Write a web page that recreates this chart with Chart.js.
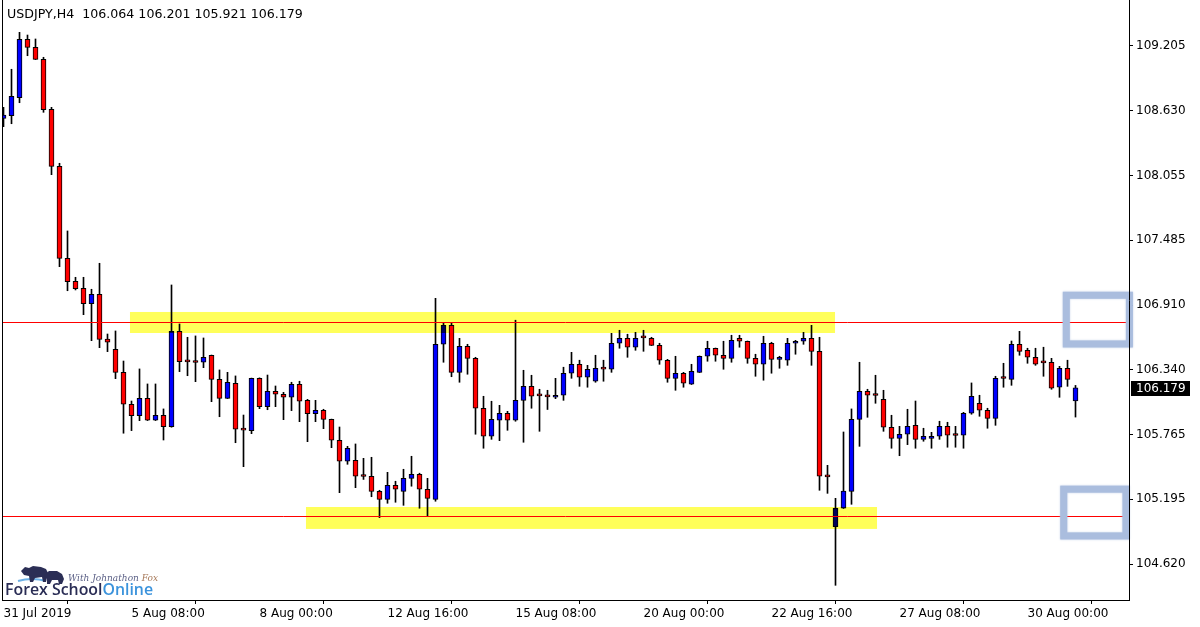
<!DOCTYPE html>
<html><head><meta charset="utf-8">
<script src="https://cdn.jsdelivr.net/npm/chart.js@4.4.1/dist/chart.umd.min.js"></script>
<style>html,body{margin:0;padding:0;background:#fff;overflow:hidden}canvas{display:block}</style>
</head><body>
<canvas id="c" width="1200" height="627"></canvas>
<script>
const symbol = "USDJPY,H4";
const opens = [
108.565,108.588,108.747,109.264,109.193,109.087,108.645,108.140,107.326,107.123,
107.061,106.924,107.008,106.612,106.521,106.317,106.034,105.933,106.087,105.893,
105.937,105.836,106.680,106.411,106.406,106.406,106.468,106.255,106.087,106.220,
105.807,105.801,106.264,106.013,106.149,106.123,106.096,106.211,106.069,105.951,
105.981,105.901,105.716,105.530,105.539,105.397,105.397,105.264,105.193,105.317,
105.264,105.379,105.415,105.282,105.193,106.565,106.733,106.317,106.547,106.441,
105.999,105.751,105.893,105.955,105.893,106.069,106.193,106.110,106.101,106.096,
106.114,106.309,106.388,106.273,106.238,106.347,106.344,106.574,106.618,106.539,
106.624,106.618,106.556,106.424,106.264,106.309,106.211,106.317,106.459,106.530,
106.468,106.441,106.618,106.592,106.441,106.388,106.574,106.432,106.424,106.574,
106.592,106.618,106.503,105.393,104.951,105.114,105.264,105.901,106.149,106.114,
106.078,105.831,105.733,105.769,105.848,105.724,105.733,105.751,105.839,105.760,
105.760,105.955,106.043,105.981,105.910,106.264,106.255,106.565,106.512,106.450,
106.402,106.406,106.185,106.353,106.064];
const highs = [
108.662,108.999,109.326,109.302,109.267,109.105,108.662,108.167,107.568,107.158,
107.158,107.052,107.282,106.656,106.683,106.417,106.063,106.347,106.214,106.214,
105.993,107.090,106.745,106.627,106.639,106.621,106.470,106.338,106.317,106.285,
105.939,106.266,106.268,106.293,106.196,106.140,106.229,106.238,106.078,106.069,
105.990,105.903,105.833,105.662,105.683,105.556,105.565,105.273,105.432,105.353,
105.459,105.574,105.424,105.379,106.972,106.751,106.756,106.618,106.565,106.450,
106.105,106.061,106.025,105.972,106.778,106.335,106.291,106.167,106.158,106.264,
106.362,106.494,106.424,106.379,106.468,106.424,106.662,106.689,106.654,106.671,
106.689,106.627,106.574,106.432,106.459,106.317,106.388,106.462,106.592,106.532,
106.592,106.645,106.645,106.594,106.477,106.636,106.583,106.459,106.618,106.600,
106.671,106.733,106.627,105.494,105.202,105.789,105.993,106.406,106.167,106.291,
106.158,105.937,105.839,105.990,106.063,105.822,105.786,105.884,105.875,105.839,
105.963,106.223,106.114,105.999,106.282,106.397,106.594,106.680,106.530,106.530,
106.539,106.441,106.370,106.424,106.201];
const lows = [
108.491,108.517,108.703,109.119,109.085,108.618,108.066,107.252,107.039,107.046,
106.827,106.597,106.535,106.500,106.261,105.778,105.801,105.889,105.890,105.890,
105.718,105.831,106.323,106.287,106.234,106.358,106.057,105.924,106.085,105.694,
105.482,105.774,105.995,105.986,106.013,105.898,105.978,105.880,105.703,105.880,
105.818,105.650,105.252,105.503,105.296,105.369,105.216,105.031,105.158,105.167,
105.140,105.309,105.114,105.048,105.176,106.406,106.278,106.229,106.300,105.769,
105.645,105.724,105.712,105.804,105.884,105.698,105.999,105.795,105.988,106.084,
106.069,106.264,106.193,106.185,106.229,106.238,106.317,106.530,106.450,106.512,
106.503,106.554,106.388,106.229,106.158,106.185,106.209,106.315,106.415,106.415,
106.344,106.406,106.539,106.397,106.282,106.247,106.309,106.353,106.379,106.477,
106.565,106.379,105.273,105.246,104.432,105.112,105.149,105.662,105.919,106.043,
105.795,105.645,105.579,105.677,105.645,105.707,105.645,105.724,105.654,105.654,
105.645,105.946,105.928,105.822,105.848,106.185,106.202,106.468,106.397,106.379,
106.282,106.167,106.096,106.193,105.921];
const closes = [
108.594,108.760,109.264,109.193,109.087,108.641,108.140,107.326,107.119,107.057,
106.924,107.008,106.609,106.583,106.317,106.034,105.933,106.087,105.893,105.937,
105.836,106.680,106.411,106.409,106.404,106.450,106.255,106.087,106.229,105.813,
105.805,106.264,106.013,106.149,106.123,106.096,106.211,106.061,105.951,105.981,
105.901,105.716,105.530,105.645,105.397,105.395,105.264,105.193,105.317,105.282,
105.379,105.415,105.282,105.202,106.565,106.733,106.317,106.547,106.441,105.999,
105.751,105.901,105.955,105.893,106.069,106.193,106.105,106.108,106.099,106.114,
106.309,106.388,106.273,106.344,106.353,106.345,106.574,106.618,106.539,106.618,
106.622,106.556,106.424,106.264,106.309,106.220,106.326,106.459,106.530,106.468,
106.441,106.600,106.592,106.441,106.388,106.574,106.432,106.437,106.574,106.592,
106.618,106.503,105.397,105.391,105.114,105.267,105.901,106.149,106.114,106.112,
105.831,105.733,105.769,105.839,105.724,105.751,105.751,105.839,105.760,105.758,
105.955,106.105,105.981,105.910,106.264,106.262,106.565,106.503,106.450,106.388,
106.400,106.176,106.353,106.255,106.179];

const tickIndex = [0,16,32,48,64,80,96,112,128];
const tickLabels = ["31 Jul 2019","5 Aug 08:00","8 Aug 00:00","12 Aug 16:00","15 Aug 08:00","20 Aug 00:00","22 Aug 16:00","27 Aug 08:00","30 Aug 00:00"];
const priceTicks = [109.205,108.630,108.055,107.485,106.910,106.340,105.765,105.195,104.620];
const levels = [106.763,105.046];
const zoneFrom = [15.81,37.81];
const zoneTo = [103.94,109.19];
const zoneTop = [106.851,105.125];
const zoneBottom = [106.665,104.931];
const boxFrom = [132.85,132.53];
const boxTo = [140.74,140.31];
const boxTop = [106.999,105.283];
const boxBottom = [106.568,104.869];

const idx = opens.map((_, i) => i);
const bodies = idx.map(i => ({x: i, y: [opens[i], closes[i]]}));
const wicks = idx.map(i => ({x: i, y: [lows[i], highs[i]]}));
const bodyColors = idx.map(i => closes[i] >= opens[i] ? '#0000FF' : '#FF0000');

const FONT = 'DejaVu Sans';

const overlay = {
  id: 'overlay',
  beforeDraw(chart) {
    const ctx = chart.ctx;
    ctx.save();
    ctx.fillStyle = '#fff';
    ctx.fillRect(0, 0, chart.width, chart.height);
    ctx.restore();
  },
  afterDatasetsDraw(chart) {
    const ctx = chart.ctx, xs = chart.scales.x, ys = chart.scales.y, a = chart.chartArea;
    ctx.save();
    ctx.beginPath(); ctx.rect(a.left, a.top, a.right - a.left, a.bottom - a.top); ctx.clip();
    ctx.globalCompositeOperation = 'multiply';
    ctx.fillStyle = '#FFFF5A';
    for (let k = 0; k < zoneFrom.length; k++) {
      const x0 = xs.getPixelForValue(zoneFrom[k]), x1 = xs.getPixelForValue(zoneTo[k]);
      const y0 = ys.getPixelForValue(zoneTop[k]), y1 = ys.getPixelForValue(zoneBottom[k]);
      ctx.fillRect(x0, y0, x1 - x0, y1 - y0);
    }
    ctx.globalCompositeOperation = 'source-over';
    ctx.strokeStyle = '#FF0000'; ctx.lineWidth = 1;
    for (const lv of levels) {
      const y = Math.round(ys.getPixelForValue(lv)) + 0.5;
      ctx.beginPath(); ctx.moveTo(a.left, y); ctx.lineTo(a.right, y); ctx.stroke();
    }
    ctx.restore();
    ctx.save();
    ctx.strokeStyle = 'rgb(170,189,222)';
    ctx.lineWidth = 7;
    ctx.shadowColor = 'rgba(170,189,222,0.8)';
    ctx.shadowBlur = 2;
    for (let k = 0; k < boxFrom.length; k++) {
      const x0 = xs.getPixelForValue(boxFrom[k]), x1 = xs.getPixelForValue(boxTo[k]);
      const y0 = ys.getPixelForValue(boxTop[k]), y1 = ys.getPixelForValue(boxBottom[k]);
      ctx.strokeRect(x0, y0, x1 - x0, y1 - y0);
    }
    ctx.restore();
  },
  afterDraw(chart) {
    const ctx = chart.ctx, ys = chart.scales.y, a = chart.chartArea;
    ctx.save();
    ctx.strokeStyle = '#000'; ctx.lineWidth = 1;
    ctx.beginPath(); ctx.moveTo(a.left + 0.5, 0); ctx.lineTo(a.left + 0.5, a.bottom); ctx.stroke();
    ctx.beginPath(); ctx.moveTo(a.right + 0.5, 0); ctx.lineTo(a.right + 0.5, a.bottom + 1); ctx.stroke();
    // header
    const n = opens.length - 1;
    const head = symbol + '  ' + opens[n].toFixed(3) + ' ' + highs[n].toFixed(3) + ' ' + lows[n].toFixed(3) + ' ' + closes[n].toFixed(3);
    ctx.fillStyle = '#000';
    ctx.font = '12px "' + FONT + '"';
    const hs = 12 * 296 / ctx.measureText(head).width;
    ctx.font = hs.toFixed(2) + 'px "' + FONT + '"';
    ctx.textBaseline = 'middle';
    ctx.textAlign = 'left';
    ctx.fillText(head, 7, 15);
    // current price tag
    ctx.font = '12px "' + FONT + '"';
    const yc = Math.round(ys.getPixelForValue(closes[n]));
    ctx.fillStyle = '#000';
    ctx.fillRect(a.right + 2, yc - 7, 59, 15);
    ctx.fillStyle = '#fff';
    ctx.fillText(closes[n].toFixed(3), a.right + 7, yc + 1);
    // logo
    ctx.strokeStyle = '#6db1e6'; ctx.lineWidth = 2;
    ctx.beginPath(); ctx.moveTo(18, 581); ctx.quadraticCurveTo(32, 577, 46, 581); ctx.stroke();
    ctx.fillStyle = '#2b2e55';
    ctx.beginPath();
    ctx.moveTo(21, 571); ctx.lineTo(25, 567); ctx.lineTo(29, 568); ctx.lineTo(33, 566); ctx.lineTo(41, 567);
    ctx.lineTo(46, 569); ctx.lineTo(48, 573); ctx.lineTo(46, 582); ctx.lineTo(43, 582); ctx.lineTo(42, 577);
    ctx.lineTo(35, 578); ctx.lineTo(33, 582); ctx.lineTo(30, 582); ctx.lineTo(29, 576); ctx.lineTo(24, 575);
    ctx.closePath(); ctx.fill();
    ctx.beginPath();
    ctx.moveTo(44, 575); ctx.lineTo(49, 571); ctx.lineTo(57, 571); ctx.lineTo(62, 574); ctx.lineTo(64, 579);
    ctx.lineTo(62, 584); ctx.lineTo(59, 584); ctx.lineTo(58, 580); ctx.lineTo(52, 580); ctx.lineTo(50, 584);
    ctx.lineTo(47, 584); ctx.lineTo(47, 579); ctx.closePath(); ctx.fill();
    ctx.fillStyle = '#5a5f85';
    ctx.font = 'italic 9px "DejaVu Serif"';
    ctx.textBaseline = 'alphabetic';
    ctx.fillText('With Johnathon', 68, 581);
    ctx.fillStyle = '#a87a5a';
    ctx.fillText(' Fox', 68 + ctx.measureText('With Johnathon').width, 581);
    ctx.font = '600 17px "Open Sans"';
    const w1 = ctx.measureText('Forex School').width, w2 = ctx.measureText('Online').width;
    const sc = 148 / (w1 + w2);
    ctx.font = '600 ' + (17 * sc).toFixed(2) + 'px "Open Sans"';
    ctx.fillStyle = '#2a2d55';
    ctx.fillText('Forex School', 5, 595);
    ctx.fillStyle = '#3b93dc';
    ctx.fillText('Online', 5 + ctx.measureText('Forex School').width, 595);
    ctx.restore();
  }
};

new Chart(document.getElementById('c'), {
  type: 'bar',
  data: {
    datasets: [
      {data: bodies, backgroundColor: bodyColors, borderColor: '#000', borderWidth: 1, borderSkipped: false,
       barThickness: 5, minBarLength: 2, grouped: false, order: 0},
      {data: wicks, backgroundColor: '#000', borderWidth: 0, barThickness: 1, grouped: false, order: 1}
    ]
  },
  options: {
    responsive: false,
    animation: false,
    events: [],
    layout: {padding: {left: 2, top: 0, right: 0, bottom: 0}},
    plugins: {legend: {display: false}, tooltip: {enabled: false}},
    scales: {
      x: {
        type: 'linear', position: 'bottom', min: -0.1875, max: 140.6875, offset: false,
        grid: {drawOnChartArea: false, drawTicks: true, tickLength: 4, color: '#000'},
        border: {display: true, color: '#000'},
        ticks: {autoSkip: false, maxRotation: 0, align: 'start', padding: 3, color: '#000',
          font: {family: FONT, size: 12},
          callback: v => { const k = tickIndex.indexOf(v); return k >= 0 ? tickLabels[k] : ''; }},
        afterBuildTicks: s => { s.ticks = tickIndex.map(v => ({value: v})); },
        afterFit: s => { s.height = 27; s.paddingLeft = 0; s.paddingRight = 0; }
      },
      y: {
        type: 'linear', position: 'right', min: 104.302, max: 109.612,
        grid: {drawOnChartArea: false, drawTicks: true, tickLength: 4, color: '#000'},
        border: {display: true, color: '#000'},
        ticks: {padding: 3, color: '#000', font: {family: FONT, size: 12}, callback: v => v.toFixed(3)},
        afterBuildTicks: s => { s.ticks = priceTicks.map(v => ({value: v})); },
        afterFit: s => { s.width = 71; s.paddingTop = 0; s.paddingBottom = 0; }
      }
    }
  },
  plugins: [overlay]
});
</script>
</body></html>
